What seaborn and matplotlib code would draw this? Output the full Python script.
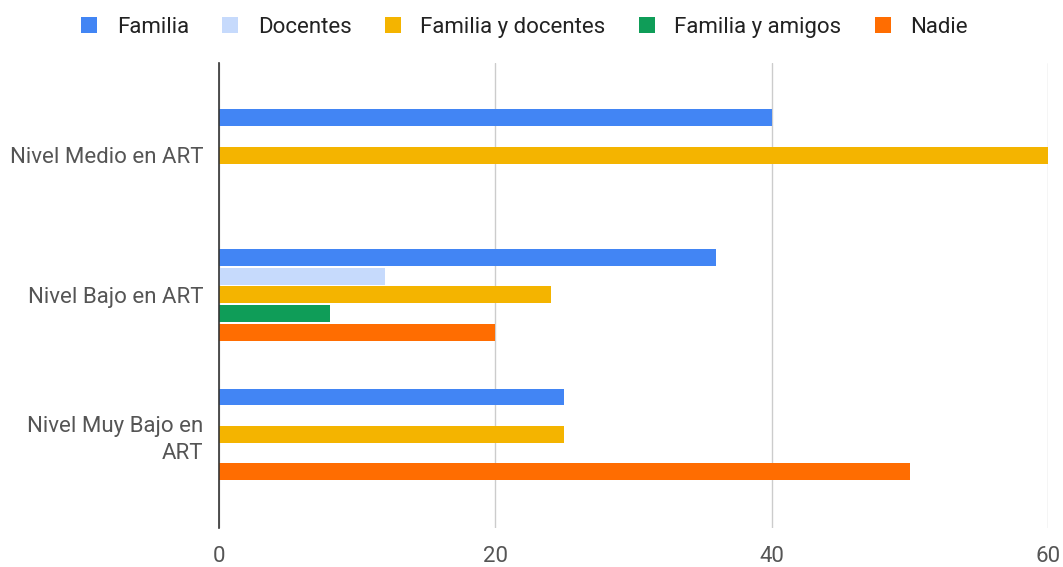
import matplotlib
matplotlib.use("Agg")
import matplotlib.pyplot as plt
from matplotlib.lines import Line2D
import seaborn as sns
import pandas as pd

categories = ["Nivel Medio en ART", "Nivel Bajo en ART", "Nivel Muy Bajo en\nART"]
series = ["Familia", "Docentes", "Familia y docentes", "Familia y amigos", "Nadie"]
familia = [40, 36, 25]
docentes = [0, 12, 0]
familia_docentes = [60, 24, 25]
familia_amigos = [0, 8, 0]
nadie = [0, 20, 50]
x_ticks = [0, 20, 40, 60]

colors = ["#4285F4", "#C6DAFC", "#F4B400", "#0F9D58", "#FF6D01"]

values = [familia, docentes, familia_docentes, familia_amigos, nadie]
rows = []
for s, vals in zip(series, values):
    for c, v in zip(categories, vals):
        rows.append({"cat": c, "serie": s, "val": v})
df = pd.DataFrame(rows)

sns.set_style("white")
plt.rcParams["font.family"] = ["Roboto", "DejaVu Sans"]

fig = plt.figure(figsize=(10.63, 5.67), dpi=100)
ax = fig.add_axes([219 / 1063, 1 - 528 / 567, (1048 - 219) / 1063, (528 - 63) / 567])

sns.barplot(data=df, y="cat", x="val", hue="serie", order=categories,
            hue_order=series, palette=colors, orient="h", width=0.67, gap=0.1,
            linewidth=0, saturation=1, ax=ax, legend=False)

ax.set_xlim(0, 60)
ax.set_ylim(2.67, -0.66)
ax.set_xticks(x_ticks)
ax.set_xticklabels([str(t) for t in x_ticks])
ax.xaxis.grid(True, color="#cccccc", linewidth=1)
ax.set_axisbelow(True)
for sp in ["top", "right", "bottom"]:
    ax.spines[sp].set_visible(False)
ax.spines["left"].set_color("#333333")
ax.spines["left"].set_linewidth(1.2)
ax.spines["left"].set_zorder(5)
ax.set_xlabel("")
ax.set_ylabel("")
ax.tick_params(axis="both", length=0, labelsize=16, labelcolor="#555555")
ax.tick_params(axis="y", pad=11)
ax.tick_params(axis="x", pad=13)
for lab in ax.get_yticklabels():
    lab.set_horizontalalignment("right")
    lab.set_multialignment("right")
    lab.set_linespacing(1.4)

handles = [Line2D([0], [0], marker="s", linestyle="", markersize=12,
                  markerfacecolor=c, markeredgewidth=0) for c in colors]
fig.legend(handles, series, loc="center", bbox_to_anchor=(0.4935, 0.952), ncol=5,
           frameon=False, fontsize=16, handlelength=0.75, handletextpad=0.85,
           columnspacing=1.5, labelcolor="#222222")

fig.savefig("out.png", dpi=100)
